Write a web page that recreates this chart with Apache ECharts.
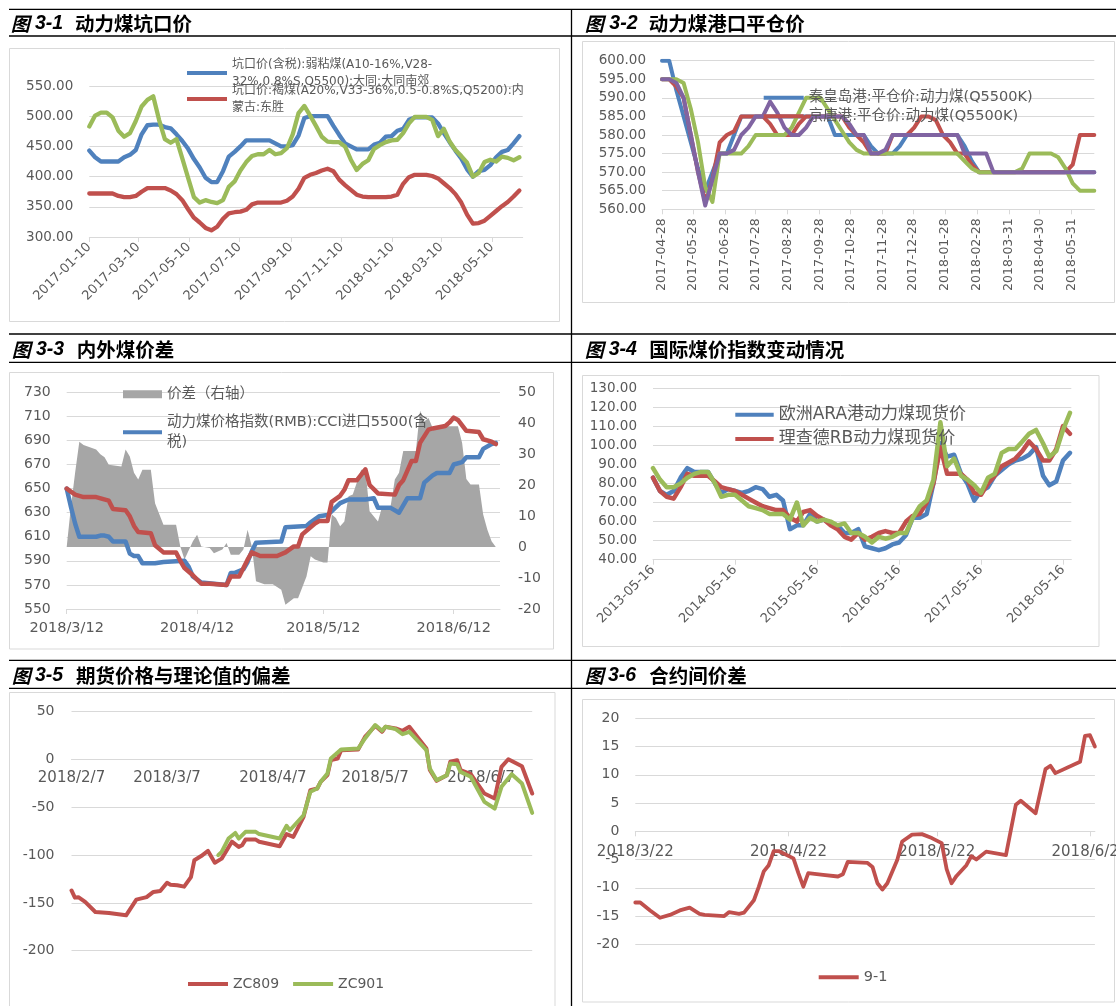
<!DOCTYPE html>
<html>
<head>
<meta charset="utf-8">
<title>动力煤价格图表</title>
<script src="https://cdn.jsdelivr.net/npm/echarts@6.0.0/dist/echarts.min.js"></script>
<style>
html,body{margin:0;padding:0;background:#fff;}
#chart{width:1116px;height:1006px;}
</style>
</head>
<body>
<div id="chart"></div>
<script>
// ================= DATA =================
// 图3-1 动力煤坑口价 (weekly, from 2017-01-10)
const p1Start = '2017-01-10';
const p1Ticks = ['2017-01-10','2017-03-10','2017-05-10','2017-07-10','2017-09-10','2017-11-10','2018-01-10','2018-03-10','2018-05-10'];
const p1Names = ['坑口价(含税):弱粘煤(A10-16%,V28-\n32%,0.8%S,Q5500):大同:大同南郊', '坑口价:褐煤(A20%,V33-36%,0.5-0.8%S,Q5200):内\n蒙古:东胜', '系列3'];
const p1Blue = [443,432,425,425,425,425,432,436,444,470,485,486,486,482,480,470,459,446,429,415,398,391,391,409,433,441,450,460,460,460,460,460,455,450,450,452,468,497,500,500,500,500,484,469,455,450,445,445,445,453,456,466,467,476,479,494,498,498,498,498,488,472,457,443,430,412,400,409,411,419,432,441,444,455,467];
const p1Red = [372,372,372,372,372,368,366,366,368,375,381,381,381,381,377,371,361,346,332,324,315,311,317,330,339,341,342,345,354,357,357,357,357,357,360,367,380,398,403,406,410,413,409,395,386,378,370,367,366,366,366,366,367,370,388,399,403,403,403,401,397,389,381,371,357,337,322,323,327,335,343,351,358,367,377];
const p1Green = [483,501,506,506,498,476,466,472,492,516,527,533,494,462,456,462,430,398,366,357,361,358,356,361,383,392,410,424,434,437,437,444,437,439,447,470,505,517,501,484,466,458,457,457,450,428,411,421,427,446,452,457,460,461,472,488,499,499,499,494,467,479,458,444,434,423,400,406,424,428,425,433,431,427,432];

// 图3-2 动力煤港口平仓价 (weekly, from 2017-04-28)
const p2Start = '2017-04-28';
const p2Ticks = ['2017-04-28','2017-05-28','2017-06-28','2017-07-28','2017-08-28','2017-09-28','2017-10-28','2017-11-28','2017-12-28','2018-01-28','2018-02-28','2018-03-31','2018-04-30','2018-05-31'];
const p2Names = ['秦皇岛港:平仓价:动力煤(Q5500K)', '京唐港:平仓价:动力煤(Q5500K)', '系列3', '系列4'];
const p2Blue = [600,600,592,585,578,571,565,570,575,575,580,585,585,585,585,585,585,585,585,585,585,585,585,585,580,580,580,580,580,577,575,575,575,577,580,580,580,580,580,580,580,580,577,573,570,570,570,570,570,570,570,570,570,570,570,570,570,570,570,570,570];
const p2Red = [595,595,593,590,580,570,562,568,578,580,581,585,585,585,585,583,580,580,580,583,585,585,585,585,585,585,582,580,578,575,575,575,580,580,580,582,585,585,584,580,578,575,575,572,570,570,570,570,570,570,570,570,570,570,570,570,570,572,580,580,580];
const p2Green = [595,595,595,594,587,578,566,562,575,575,575,575,577,580,580,580,580,580,582,586,590,590,590,587,584,581,578,576,575,575,575,575,575,575,575,575,575,575,575,575,575,575,573,571,570,570,570,570,570,570,571,575,575,575,575,574,571,567,565,565,565];
const p2Purple = [595,595,594,590,580,570,561,568,575,575,576,580,582,585,585,589,586,582,580,580,582,585,585,585,585,585,583,580,580,575,575,576,580,580,580,580,580,580,580,580,580,580,575,575,575,575,570,570,570,570,570,570,570,570,570,570,570,570,570,570,570];

// 图3-3 内外煤价差 (2018, [M/D, value])
const p3Ticks = ['3/12','4/12','5/12','6/12'];
const p3Names = ['价差（右轴）', '动力煤价格指数(RMB):CCI进口5500(含\n税)', '系列3'];
const p3Gap = [['3/12',0],['3/13',13],['3/14',24],['3/15',34],['3/16',33],['3/19',31.5],['3/20',30],['3/21',29],['3/22',26.6],['3/25',26],['3/26',31.5],['3/27',29.3],['3/28',24],['3/29',21.8],['3/30',25],['4/1',25],['4/2',14.2],['4/4',7.2],['4/7',7.2],['4/8',0.2],['4/9',-4],['4/11',1.9],['4/12',4],['4/13',0.2],['4/15',-0.3],['4/16',-2],['4/18',-0.8],['4/19',1.3],['4/20',-2.5],['4/22',-2.5],['4/23',-0.8],['4/24',5.6],['4/25',0.2],['4/26',-11],['4/28',-12],['4/30',-12],['5/2',-13.8],['5/3',-18.6],['5/5',-16.5],['5/6',-16.5],['5/8',-9.5],['5/9',-3],['5/10',-4],['5/12',-5],['5/13',-5],['5/14',10.5],['5/15',9.4],['5/16',6.7],['5/17',8.3],['5/18',16.4],['5/19',17],['5/21',25],['5/22',25],['5/23',11.6],['5/25',8.3],['5/26',13.2],['5/27',12.6],['5/28',13.2],['5/29',21.8],['5/30',24],['5/31',31],['6/3',31],['6/4',44],['6/5',40.6],['6/6',41.7],['6/7',38.5],['6/8',39],['6/13',39],['6/14',33.6],['6/15',22],['6/16',20.2],['6/18',20.2],['6/19',10.5],['6/20',5.6],['6/21',1.9],['6/22',0]];
const p3Blue = [['3/12',650],['3/13',635],['3/14',621],['3/15',610],['3/19',610],['3/20',611],['3/21',611],['3/22',610],['3/23',606],['3/26',606],['3/27',596],['3/28',594],['3/29',594],['3/30',588],['4/2',588],['4/4',589],['4/9',590],['4/10',585],['4/11',577],['4/13',572],['4/16',571],['4/19',570],['4/20',580],['4/21',580],['4/23',583],['4/24',589],['4/25',598],['4/26',605],['5/2',606],['5/3',618],['5/8',619],['5/9',622],['5/11',627],['5/13',628],['5/16',638],['5/18',641],['5/22',641],['5/24',642],['5/25',634],['5/28',634],['5/30',630],['6/1',642],['6/4',642],['6/5',655],['6/7',661],['6/8',663],['6/11',663],['6/12',670],['6/14',672],['6/15',676],['6/18',676],['6/19',683],['6/21',687],['6/22',688]];
const p3Red = [['3/12',650],['3/14',645],['3/16',643],['3/19',643],['3/22',640],['3/23',633],['3/26',632],['3/27',627],['3/28',619],['3/29',614],['4/1',613],['4/2',603],['4/4',597],['4/7',597],['4/8',590],['4/9',584],['4/11',578],['4/13',571],['4/15',571],['4/19',570],['4/20',577],['4/22',577],['4/24',591],['4/25',597],['4/27',594],['5/1',594],['5/3',597],['5/5',602],['5/6',602],['5/7',612],['5/10',621],['5/11',623],['5/13',623],['5/14',639],['5/16',644],['5/17',649],['5/18',657],['5/20',657],['5/22',666],['5/23',653],['5/25',646],['5/29',645],['5/30',653],['5/31',657],['6/2',673],['6/3',673],['6/4',688],['6/6',699],['6/7',700],['6/10',702],['6/11',705],['6/12',709],['6/13',707],['6/15',698],['6/18',697],['6/19',691],['6/21',689],['6/22',687]];

// 图3-4 国际煤价指数变动情况 (monthly, from 2013-05-16)
const p4Start = '2013-05-16';
const p4Ticks = ['2013-05-16','2014-05-16','2015-05-16','2016-05-16','2017-05-16','2018-05-16'];
const p4Names = ['欧洲ARA港动力煤现货价', '理查德RB动力煤现货价', '系列3'];
const p4Blue = [83,76,74,76,83,88,86,86,86,80,75,77,76,75,76,78,77,73,74,71,56,58,58,64,60,61,59,58,54,54,56,47,46,45,46,48,49,53,62,62,64,80,101,94,95,85,80,71,76,78,84,87,90,92,93,95,99,84,79,81,92,96];
const p4Red = [83,76,73,72,78,85,84,84,84,81,78,77,76,74,72,70,68,67,66,66,62,60,65,66,63,61,58,56,52,50.5,54,50.5,52,54,55,54,54,60,63,64,70,80,99,85,85,85,82,75,74,80,84,89,91,93,97,102,98,92,92,98,110,106];
const p4Green = [88,82,78,78,80,83,85,86,86,80,73,74,74,71,68,67,66,64,64,64,61,70,58,62,60,61,60,58,59,54,54,52,49,52,51,52,54,54,62,68,71,82,112,89,93,84,82,79,75,83,85,96,98,98,102,106,108,101,94,97,108,117];

// 图3-5 期货价格与理论值的偏差 (2018, [M/D, value])
const p5Ticks = ['2/7','3/7','4/7','5/7','6/7'];
const p5Names = ['ZC809', 'ZC901'];
const p5ZC809 = [['2/7',-137],['2/8',-144.5],['2/9',-144],['2/11',-149],['2/14',-159.5],['2/18',-160.5],['2/23',-163],['2/26',-146.6],['3/1',-144],['3/3',-138.5],['3/5',-137.5],['3/7',-129],['3/8',-131],['3/10',-131.6],['3/12',-133],['3/14',-123],['3/15',-105.4],['3/17',-101],['3/19',-95.6],['3/21',-108],['3/23',-103.7],['3/26',-86],['3/28',-91.4],['3/29',-89.7],['3/30',-83.8],['4/2',-83.8],['4/3',-86],['4/9',-90.7],['4/11',-78],['4/13',-81],['4/16',-60],['4/18',-32],['4/20',-30.4],['4/21',-23.4],['4/23',-16.4],['4/24',-0.7],['4/26',1],['4/27',9.8],['5/2',10.5],['5/4',23.7],['5/7',35.2],['5/9',29],['5/10',34.2],['5/13',32.5],['5/15',30],['5/17',34.2],['5/22',11.5],['5/23',-11],['5/25',-22.3],['5/28',-16.4],['5/29',-2.4],['5/31',-0.7],['6/1',-11],['6/4',-15.4],['6/8',-35.6],['6/11',-40.8],['6/13',-7.7],['6/15',0.3],['6/19',-7],['6/22',-35.6]];
const p5ZC901 = [['3/22',-100],['3/23',-96.7],['3/25',-82.7],['3/27',-76.8],['3/28',-82.7],['3/30',-75.7],['4/2',-75.7],['4/3',-78],['4/9',-82.7],['4/11',-69.4],['4/12',-74],['4/16',-58.3],['4/18',-33.8],['4/20',-30.4],['4/21',-23.4],['4/23',-14.7],['4/24',1],['4/27',10.5],['5/2',11.5],['5/4',22],['5/7',36],['5/9',30],['5/10',34.2],['5/13',31.8],['5/15',26.5],['5/17',29],['5/22',9.8],['5/23',-9.4],['5/25',-21.6],['5/28',-16.4],['5/29',-4.2],['5/31',-4.9],['6/1',-12.9],['6/4',-18.1],['6/8',-44.3],['6/11',-51.3],['6/13',-28.6],['6/16',-15.4],['6/19',-25.1],['6/22',-55.8]];

// 图3-6 合约间价差 (2018, [M/D, value])
const p6Ticks = ['3/22','4/22','5/22','6/22'];
const p6Names = ['9-1'];
const p6Spread = [['3/22',-12.6],['3/23',-12.6],['3/25',-14],['3/27',-15.3],['3/29',-14.8],['3/31',-14],['4/2',-13.5],['4/4',-14.6],['4/5',-14.8],['4/9',-15],['4/10',-14.3],['4/12',-14.6],['4/13',-14.4],['4/15',-12.2],['4/16',-9.8],['4/17',-7.1],['4/18',-6],['4/19',-3.5],['4/20',-3.5],['4/23',-4.8],['4/24',-7.4],['4/25',-9.8],['4/26',-7.4],['4/29',-7.7],['5/2',-8],['5/3',-7.6],['5/4',-5.4],['5/8',-5.6],['5/9',-6.3],['5/10',-9.2],['5/11',-10.3],['5/12',-9.2],['5/14',-5.1],['5/15',-1.8],['5/17',-0.6],['5/19',-0.5],['5/21',-1.2],['5/23',-2.1],['5/24',-6.7],['5/25',-9.2],['5/26',-7.9],['5/28',-6],['5/29',-4.4],['5/30',-5],['6/1',-3.6],['6/5',-4.2],['6/7',4.7],['6/8',5.4],['6/11',3.2],['6/13',11],['6/14',11.6],['6/15',10.3],['6/20',12.3],['6/21',16.9],['6/22',17],['6/23',15]];

// Panel titles
const titles = [['3-1','动力煤坑口价'],['3-2','动力煤港口平仓价'],['3-3','内外煤价差'],['3-4','国际煤价指数变动情况'],['3-5','期货价格与理论值的偏差'],['3-6','合约间价差']];

// ================= HELPERS =================
const DAY = 864e5;
const ts = s => { const p = s.split('-').map(Number); return Date.UTC(p[0], p[1]-1, p[2]); };
const md = s => { const p = s.split('/').map(Number); return Date.UTC(2018, p[0]-1, p[1]); };
const weekly = (start, n) => Array.from({length: n}, (_, i) => ts(start) + i * 7 * DAY);
const monthly = (start, n) => { const p = start.split('-').map(Number); return Array.from({length: n}, (_, i) => Date.UTC(p[0], p[1]-1+i, p[2])); };
const zip = (xs, ys) => ys.map((v, i) => [xs[i], v]);
const pairs = arr => arr.map(([d, v]) => [md(d), v]);
const pad2 = n => String(n).padStart(2, '0');
const dash = v => { const t = new Date(v); return t.getUTCFullYear() + '-' + pad2(t.getUTCMonth()+1) + '-' + pad2(t.getUTCDate()); };
const slash = v => { const t = new Date(v); return t.getUTCFullYear() + '/' + (t.getUTCMonth()+1) + '/' + t.getUTCDate(); };
const fix2 = v => v.toFixed(2);
const plain = v => String(v);

const GRID = '#d9d9d9', AXC = '#d9d9d9', LBL = '#595959';
const FONT = 'DejaVu Sans, Noto Sans CJK SC, sans-serif';
const BLUE = '#4F81BD', RED = '#C0504D', GREEN = '#9BBB59', PURPLE = '#8064A2', AREA = '#A6A6A6';

function xAx(gi, min, max, ticks, fmt, o) {
  return {
    type: 'value', gridIndex: gi, min: min, max: max, offset: o.offset || 0,
    axisLine: { show: true, onZero: false, lineStyle: { color: AXC, width: 1 } },
    axisTick: { show: o.tick !== false, length: 5, lineStyle: { color: AXC }, customValues: ticks },
    axisLabel: { customValues: ticks, formatter: fmt, color: LBL, fontFamily: FONT, fontSize: o.fs, rotate: o.rotate || 0, margin: o.margin },
    splitLine: { show: false }
  };
}
function yAx(gi, min, max, interval, fmt, fs, o) {
  o = o || {};
  return {
    type: 'value', gridIndex: gi, min: min, max: max, interval: interval, position: o.position || 'left',
    axisLine: { show: false, onZero: false }, axisTick: { show: false },
    axisLabel: { formatter: fmt, color: LBL, fontFamily: FONT, fontSize: fs, margin: o.margin || 16 },
    splitLine: { show: o.split !== false, lineStyle: { color: GRID, width: 1 } }
  };
}
function line(name, xi, yi, data, color, width, z) {
  return { type: 'line', name: name, xAxisIndex: xi, yAxisIndex: yi, data: data, symbol: 'none', showSymbol: false,
    lineStyle: { color: color, width: width, cap: 'round', join: 'round' }, itemStyle: { color: color }, z: z || 2, animation: false };
}
function leg(names, left, top, fs, lh, o) {
  o = o || {};
  return { data: names, left: left, top: top, orient: 'horizontal', padding: 0, itemGap: o.gap || 10, icon: 'rect',
    itemWidth: o.iw || 40, itemHeight: o.ih || 4, selectedMode: false,
    textStyle: { color: LBL, fontFamily: FONT, fontSize: fs, lineHeight: lh, padding: o.pad || 0 } };
}

// ================= BUILD =================
const p1X = weekly(p1Start, p1Blue.length);
const p2X = weekly(p2Start, p2Blue.length);
const p4X = monthly(p4Start, p4Blue.length);

const grids = [
  { left: 89.3, top: 86, width: 433.4, height: 151 },
  { left: 662, top: 60.7, width: 432.3, height: 148.6 },
  { left: 66.7, top: 392.3, width: 433.3, height: 216.7 },
  { left: 653, top: 388, width: 418.3, height: 171.7 },
  { left: 71.5, top: 711.7, width: 460.7, height: 239 },
  { left: 635.3, top: 718.3, width: 459.6, height: 226 }
].map(g => Object.assign(g, { containLabel: false, outerBoundsMode: 'none' }));

// P5 / P6: the date axis crosses the value axis at 0 (Excel style);
// shift it up from the grid bottom to the zero line of its y axis.
const zeroShift = (g, min, max) => -(g.height * (0 - min) / (max - min));

const xAxes = [
  xAx(0, ts('2017-01-10'), ts('2018-06-16'), p1Ticks.map(ts), dash, { fs: 13, rotate: 45, margin: 8 }),
  xAx(1, ts('2017-04-28'), ts('2018-06-22'), p2Ticks.map(ts), dash, { fs: 12.5, rotate: 90, margin: 9 }),
  xAx(2, md('3/12'), md('6/23'), p3Ticks.map(md), slash, { fs: 14.5, margin: 12 }),
  xAx(3, ts('2013-05-16'), ts('2018-06-22'), p4Ticks.map(ts), dash, { fs: 13, rotate: 45, margin: 8 }),
  xAx(4, md('2/7'), md('6/22'), p5Ticks.map(md), slash, { fs: 15, margin: 11, tick: false, offset: zeroShift(grids[4], -200, 50) }),
  xAx(5, md('3/22'), md('6/23'), p6Ticks.map(md), slash, { fs: 15, margin: 13, offset: zeroShift(grids[5], -20, 20) })
];
const yAxes = [
  yAx(0, 300, 550, 50, fix2, 13.5),
  yAx(1, 560, 600, 5, fix2, 13.5),
  yAx(2, 550, 730, 20, plain, 14),
  yAx(2, -20, 50, 10, plain, 14, { position: 'right', split: false, margin: 18 }),
  yAx(3, 40, 130, 10, fix2, 13.5),
  yAx(4, -200, 50, 50, plain, 14, { margin: 17 }),
  yAx(5, -20, 20, 5, plain, 14, { margin: 16 })
];

const areaSeries = line(p3Names[0], 2, 3, pairs(p3Gap), AREA, 0, 1);
areaSeries.areaStyle = { color: AREA, opacity: 1 };
areaSeries.lineStyle.width = 0;

const series = [
  line(p1Names[0], 0, 0, zip(p1X, p1Blue), BLUE, 4.3),
  line(p1Names[1], 0, 0, zip(p1X, p1Red), RED, 4.3),
  line(p1Names[2], 0, 0, zip(p1X, p1Green), GREEN, 4.3),
  line(p2Names[0], 1, 1, zip(p2X, p2Blue), BLUE, 4),
  line(p2Names[1], 1, 1, zip(p2X, p2Red), RED, 4),
  line(p2Names[2], 1, 1, zip(p2X, p2Green), GREEN, 4),
  line(p2Names[3], 1, 1, zip(p2X, p2Purple), PURPLE, 4),
  areaSeries,
  line(p3Names[1], 2, 2, pairs(p3Blue), BLUE, 4.5),
  line(p3Names[2], 2, 2, pairs(p3Red), RED, 4.5),
  line(p4Names[0], 3, 4, zip(p4X, p4Blue), BLUE, 4.5),
  line(p4Names[1], 3, 4, zip(p4X, p4Red), RED, 4.5),
  line(p4Names[2], 3, 4, zip(p4X, p4Green), GREEN, 4.5),
  line(p5Names[0], 4, 5, pairs(p5ZC809), RED, 4),
  line(p5Names[1], 4, 5, pairs(p5ZC901), GREEN, 4),
  line(p6Names[0], 5, 6, pairs(p6Spread), RED, 3.8)
];

const legends = [
  leg([p1Names[0]], 187, 47.5, 12, 17, { pad: [17, 0, 0, 0] }),
  leg([p1Names[1]], 187, 73.5, 12, 17, { pad: [17, 0, 0, 0] }),
  leg([p2Names[0]], 763.7, 88.7, 14.5, 18),
  leg([p2Names[1]], 763.7, 107.3, 14.5, 18),
  leg([p3Names[0]], 123, 385.2, 14.5, 18, { ih: 8, iw: 39 }),
  leg([p3Names[1]], 123, 403.4, 14.5, 19.3, { pad: [19.3, 0, 0, 0], iw: 39 }),
  leg([p4Names[0]], 735.3, 404.7, 17, 20, { iw: 38.4 }),
  leg([p4Names[1]], 735.3, 429, 17, 20, { iw: 38.4 }),
  leg(p5Names, 188, 976, 14, 16, { gap: 14 }),
  leg(p6Names, 818.7, 969.3, 14.5, 16)
];

// Decorations: frames, black rules, panel titles
const graphics = [];
[[9.5,48.5,550,273],[582.5,41.5,532,261],[9.5,372.5,544,276.5],[582.5,375.5,516.5,271],[9.5,692.5,545.5,330],[582.5,699.5,532,302.5]]
  .forEach(r => graphics.push({ type: 'rect', silent: true, z: -10, shape: { x: r[0], y: r[1], width: r[2], height: r[3] }, style: { fill: 'none', stroke: '#d9d9d9', lineWidth: 1 } }));
[[9,9.3,1116,9.3],[9,36,1116,36],[9,334,1116,334],[9,362.3,1116,362.3],[9,660.3,1116,660.3],[9,688.3,1116,688.3],[571.5,9.3,571.5,1006]]
  .forEach(l => graphics.push({ type: 'line', silent: true, z: 10, shape: { x1: l[0], y1: l[1], x2: l[2], y2: l[3] }, style: { stroke: '#000', lineWidth: 1.3 } }));
const titlePos = [[10.7,35,75,23.7],[584.7,609.3,648.7,23.7],[11.7,36,76.7,349.7],[584.7,608.7,649.3,349.7],[11.7,35,76,675.8],[584.7,608,649.3,675.8]];
titles.forEach((t, i) => {
  const p = titlePos[i];
  graphics.push({ type: 'text', silent: true, x: p[0], y: p[3], style: { text: '图', fontFamily: 'Noto Sans CJK SC', fontSize: 19, fontWeight: 'bold', fontStyle: 'italic', fill: '#000', verticalAlign: 'middle' } });
  graphics.push({ type: 'text', silent: true, x: p[1], y: p[3], style: { text: t[0], fontFamily: 'Liberation Sans', fontSize: 19.5, fontWeight: 'bold', fontStyle: 'italic', fill: '#000', verticalAlign: 'middle' } });
  graphics.push({ type: 'text', silent: true, x: p[2], y: p[3], style: { text: t[1], fontFamily: 'Noto Sans CJK SC', fontSize: 19.5, fontWeight: 'bold', fill: '#000', verticalAlign: 'middle' } });
});

const chart = echarts.init(document.getElementById('chart'), null, { renderer: 'canvas' });
chart.setOption({
  animation: false,
  backgroundColor: '#fff',
  textStyle: { fontFamily: FONT },
  grid: grids,
  xAxis: xAxes,
  yAxis: yAxes,
  legend: legends,
  series: series,
  graphic: { elements: graphics }
});
</script>
</body>
</html>
